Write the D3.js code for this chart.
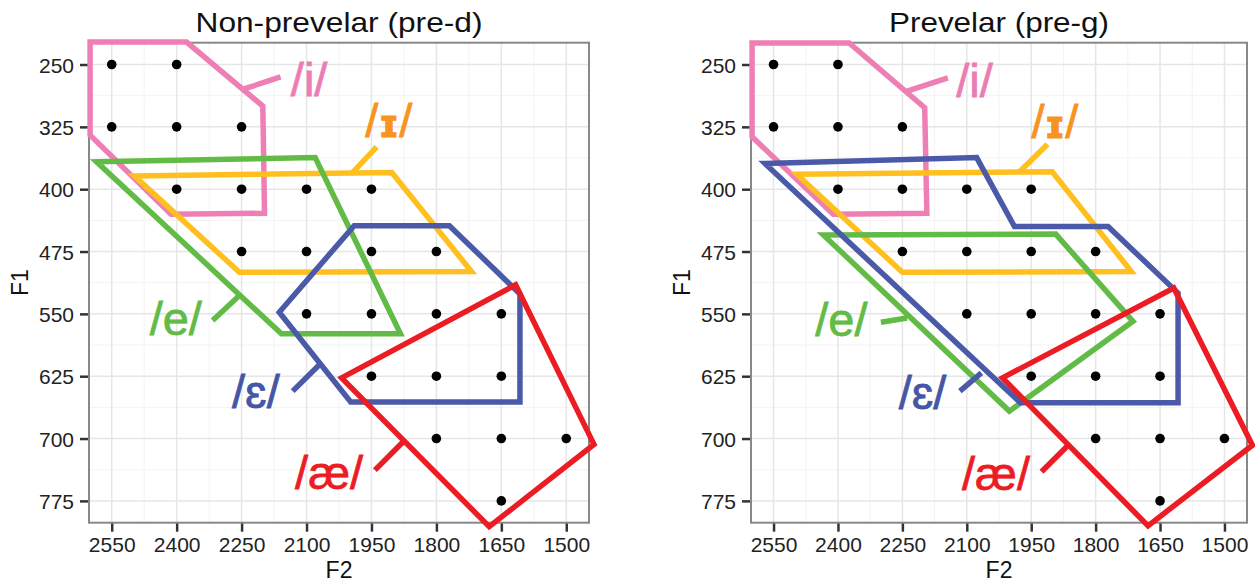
<!DOCTYPE html>
<html>
<head>
<meta charset="utf-8">
<script src="https://cdn.jsdelivr.net/npm/d3@7"></script>
<style>
  body { margin: 0; background: #fff; }
  svg { display: block; font-family: "Liberation Sans", Arial, sans-serif; }
</style>
</head>
<body>
<svg id="chart-svg" width="1255" height="583"></svg>
<script>
// Tick values
const f2Ticks = [2550, 2400, 2250, 2100, 1950, 1800, 1650, 1500];
const f1Ticks = [250, 325, 400, 475, 550, 625, 700, 775];

// Stimulus grid points [F2, F1] (same in both panels)
const gridPoints = [
    [2550, 250], [2400, 250],
    [2550, 325], [2400, 325], [2250, 325],
    [2400, 400], [2250, 400], [2100, 400], [1950, 400],
    [2250, 475], [2100, 475], [1950, 475], [1800, 475],
    [2100, 550], [1950, 550], [1800, 550], [1650, 550],
    [1950, 625], [1800, 625], [1650, 625],
    [1800, 700], [1650, 700], [1500, 700],
    [1650, 775]
];

// Vowel categories
const vowels = ["i", "ɪ", "e", "ɛ", "æ"];

// Non-prevelar (pre-d) category regions [F2, F1]
const preD_i  = [[2600, 223], [2377, 223], [2201, 300], [2197, 429], [2413, 430], [2600, 335]];
const preD_I  = [[2498, 384], [1903, 380], [1719, 499], [2255, 500]];
const preD_e  = [[2585, 367], [2080, 362], [1883, 574], [2158, 574]];
const preD_E  = [[1990, 444], [1770, 444], [1607, 526], [1607, 656], [1998, 656], [2163, 548]];
const preD_ae = [[2019, 627], [1617, 515], [1436, 707], [1678, 806]];

// Prevelar (pre-g) category regions [F2, F1]
const preG_i  = [[2600, 224], [2374, 224], [2198, 302], [2193, 429], [2411, 430], [2600, 337]];
const preG_I  = [[2496, 382], [1901, 379], [1717, 499], [2250, 500]];
const preG_e  = [[2434, 455], [1893, 454], [1713, 559], [2001, 667]];
const preG_E  = [[2570, 369], [2077, 362], [1989, 445], [1771, 445], [1608, 525], [1608, 657], [1975, 657]];
const preG_ae = [[2017, 627], [1618, 519], [1435, 708], [1678, 805]];

// Label anchor points [F2 centre, F1 baseline]
const preD_labelPos = [[2094, 288], [1910, 337], [2402, 576], [2217, 663], [2048, 761]];
const preG_labelPos = [[2082, 289], [1895, 339], [2392, 577], [2203, 665], [2032, 762]];

// Leader lines from label to region
const preD_leaders = [
    [[2248, 280], [2160, 265]],
    [[1997, 382], [1938, 349]],
    [[2317, 558], [2255, 528]],
    [[2132, 643], [2068, 610]],
    [[1942, 738], [1875, 703]]
];
const preG_leaders = [
    [[2239, 282], [2144, 266]],
    [[1979, 380], [1912, 346]],
    [[2300, 560], [2239, 555]],
    [[2116, 643], [2066, 621]],
    [[1926, 740], [1864, 708]]
];

// Colours
const lineColors  = { "i": "#ee7fb5", "ɪ": "#ffbf1f", "e": "#63bb47", "ɛ": "#4a5aa8", "æ": "#ec1c24" };
const labelColors = { "i": "#ec7db4", "ɪ": "#f7931e", "e": "#63bb47", "ɛ": "#4556a6", "æ": "#ec1c24" };

const panels = [
    { title: "Non-prevelar (pre-d)", titleLen: 287, left: 89, right: 589,
      regions: [preD_i, preD_I, preD_e, preD_E, preD_ae], labelPos: preD_labelPos, leaders: preD_leaders },
    { title: "Prevelar (pre-g)", titleLen: 220, left: 751, right: 1247,
      regions: [preG_i, preG_I, preG_e, preG_E, preG_ae], labelPos: preG_labelPos, leaders: preG_leaders }
];

const plotTop = 42.7, plotBottom = 522.7;
const svg = d3.select("#chart-svg");

svg.append("rect").attr("width", 1255).attr("height", 583).attr("fill", "#fff");

// ggplot-style 5% expansion of the data range
const f2Ext = [2602.5, 1447.5];
const f1Ext = [223.75, 801.25];

panels.forEach(p => {
    const x = d3.scaleLinear().domain(f2Ext).range([p.left, p.right]);
    const y = d3.scaleLinear().domain(f1Ext).range([plotTop, plotBottom]);
    const g = svg.append("g");

    // Minor gridlines
    const xMinor = d3.pairs(f2Ticks).map(([a, b]) => (a + b) / 2);
    const yMinor = d3.pairs(f1Ticks).map(([a, b]) => (a + b) / 2);
    g.append("g").selectAll("line").data(xMinor).join("line")
        .attr("x1", d => x(d)).attr("x2", d => x(d)).attr("y1", plotTop).attr("y2", plotBottom)
        .attr("stroke", "#f3f3f3").attr("stroke-width", 1);
    g.append("g").selectAll("line").data(yMinor).join("line")
        .attr("y1", d => y(d)).attr("y2", d => y(d)).attr("x1", p.left).attr("x2", p.right)
        .attr("stroke", "#f3f3f3").attr("stroke-width", 1);

    // Major gridlines
    g.append("g").selectAll("line").data(f2Ticks).join("line")
        .attr("x1", d => x(d)).attr("x2", d => x(d)).attr("y1", plotTop).attr("y2", plotBottom)
        .attr("stroke", "#e6e6e6").attr("stroke-width", 1.5);
    g.append("g").selectAll("line").data(f1Ticks).join("line")
        .attr("y1", d => y(d)).attr("y2", d => y(d)).attr("x1", p.left).attr("x2", p.right)
        .attr("stroke", "#e6e6e6").attr("stroke-width", 1.5);

    // Axes
    const xAxis = g.append("g")
        .attr("transform", "translate(0," + plotBottom + ")")
        .call(d3.axisBottom(x).tickValues(f2Ticks).tickFormat(d3.format("d")).tickSize(9).tickPadding(5));
    const yAxis = g.append("g")
        .attr("transform", "translate(" + p.left + ",0)")
        .call(d3.axisLeft(y).tickValues(f1Ticks).tickFormat(d3.format("d")).tickSize(9).tickPadding(6));
    [xAxis, yAxis].forEach(a => {
        a.select(".domain").remove();
        a.attr("font-size", 21).attr("font-family", "'Liberation Sans', Arial, sans-serif");
        a.selectAll(".tick line").attr("stroke", "#333").attr("stroke-width", 2.5);
        a.selectAll(".tick text").attr("fill", "#222");
    });
    yAxis.selectAll(".tick text").attr("dy", "0.36em");

    // Panel border
    g.append("rect")
        .attr("x", p.left).attr("y", plotTop)
        .attr("width", p.right - p.left).attr("height", plotBottom - plotTop)
        .attr("fill", "none").attr("stroke", "#888").attr("stroke-width", 2);

    // Points
    g.append("g").selectAll("circle").data(gridPoints).join("circle")
        .attr("cx", d => x(d[0])).attr("cy", d => y(d[1])).attr("r", 4.8).attr("fill", "#000");

    // Category regions
    const line = d3.line().x(d => x(d[0])).y(d => y(d[1]));
    g.append("g").selectAll("path").data(p.regions).join("path")
        .attr("d", d => line(d) + "Z")
        .attr("fill", "none")
        .attr("stroke", (d, i) => lineColors[vowels[i]])
        .attr("stroke-width", 5.5)
        .attr("stroke-linejoin", "miter");

    // Leader lines
    g.append("g").selectAll("path").data(p.leaders).join("path")
        .attr("d", d => line(d))
        .attr("stroke", (d, i) => lineColors[vowels[i]])
        .attr("stroke-width", 5.5);

    // Labels
    g.append("g").selectAll("text").data(p.labelPos).join("text")
        .attr("x", d => x(d[0])).attr("y", d => y(d[1]))
        .attr("text-anchor", "middle")
        .attr("font-size", 47)
        .attr("fill", (d, i) => labelColors[vowels[i]])
        .attr("stroke", (d, i) => labelColors[vowels[i]])
        .attr("stroke-width", 0.8)
        .each(function(d, i) {
            const t = d3.select(this);
            t.append("tspan").text("/");
            if (vowels[i] === "ɪ") {
                t.append("tspan").text("ɪ").attr("font-family", "'DejaVu Sans', sans-serif")
                    .attr("font-weight", "bold").attr("font-size", 38);
            } else {
                t.append("tspan").text(vowels[i]);
            }
            t.append("tspan").text("/");
        });

    // Titles
    const cx = (p.left + p.right) / 2;
    svg.append("text").attr("x", cx).attr("y", 32).attr("text-anchor", "middle")
        .attr("font-size", 28).attr("fill", "#111")
        .attr("textLength", p.titleLen).attr("lengthAdjust", "spacingAndGlyphs")
        .text(p.title);
    svg.append("text").attr("x", cx).attr("y", 578).attr("text-anchor", "middle")
        .attr("font-size", 23).attr("fill", "#111").text("F2");
    svg.append("text")
        .attr("transform", "translate(" + (p.left - 61) + "," + ((plotTop + plotBottom) / 2) + ") rotate(-90)")
        .attr("text-anchor", "middle").attr("font-size", 23).attr("fill", "#111").text("F1");
});
</script>
</body>
</html>
